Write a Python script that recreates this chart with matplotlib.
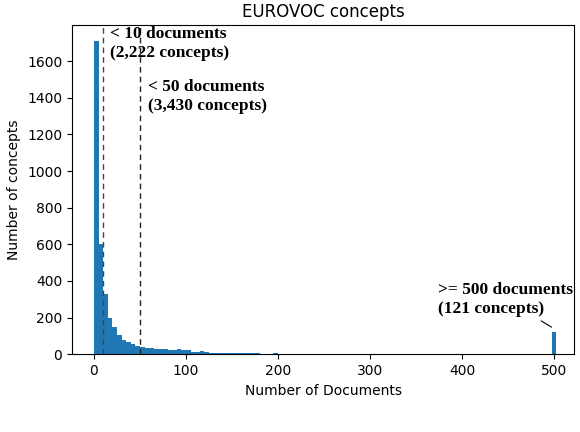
import matplotlib.pyplot as plt
import numpy as np

# concepts per 5-document bin, starting at 0
counts = [1710, 600, 330, 200, 150, 105, 80, 65, 55, 45,
          38, 35, 32, 30, 28, 27, 25, 22, 26, 24,
          22, 14, 12, 20, 10, 9, 8, 8, 7, 7,
          6, 6, 5, 5, 6, 5, 4, 4, 4, 5,
          3, 3, 4, 3, 3, 3, 2, 2, 3, 2,
          2, 2, 2, 2, 3, 2, 1, 2, 1, 1,
          1, 2, 1, 1, 1, 1, 1, 1, 1, 1,
          1, 1, 1, 1, 1, 1, 1, 1, 1, 1,
          1, 1, 1, 1, 1, 1, 1, 1, 1, 1,
          1, 1, 1, 1, 1, 1, 1, 1, 1]
over_500 = 121
bin_width = 5
lefts = np.arange(len(counts)) * bin_width

fig = plt.figure(figsize=(5.8, 4.32), dpi=100)
ax = fig.add_axes([0.124, 0.18, 0.866, 0.762])
ax.bar(lefts, counts, width=bin_width, align="edge", color="#1f77b4")
ax.bar([497.5], [over_500], width=bin_width, align="edge", color="#1f77b4")
ax.axvline(10, color="#444444", linestyle=(0, (4, 3)), linewidth=1)
ax.axvline(50, color="#222222", linestyle=(0, (4, 3)), linewidth=1)

serif = dict(family="Liberation Serif", fontweight="bold", fontsize=12.5)
ax.text(17, 1790, "< 10 documents\n(2,222 concepts)", va="top", **serif)
ax.text(59, 1500, "< 50 documents\n(3,430 concepts)", va="top", **serif)
ax.annotate(">= 500 documents\n(121 concepts)", xy=(500, 140), xytext=(374, 205),
            ha="left", va="bottom", arrowprops=dict(arrowstyle="-", color="black", lw=0.8),
            **serif)

ax.set_xlim(-24, 522)
ax.set_ylim(0, 1797)
ax.set_title("EUROVOC concepts")
ax.set_xlabel("Number of Documents")
ax.set_ylabel("Number of concepts")
plt.savefig("out.png")
